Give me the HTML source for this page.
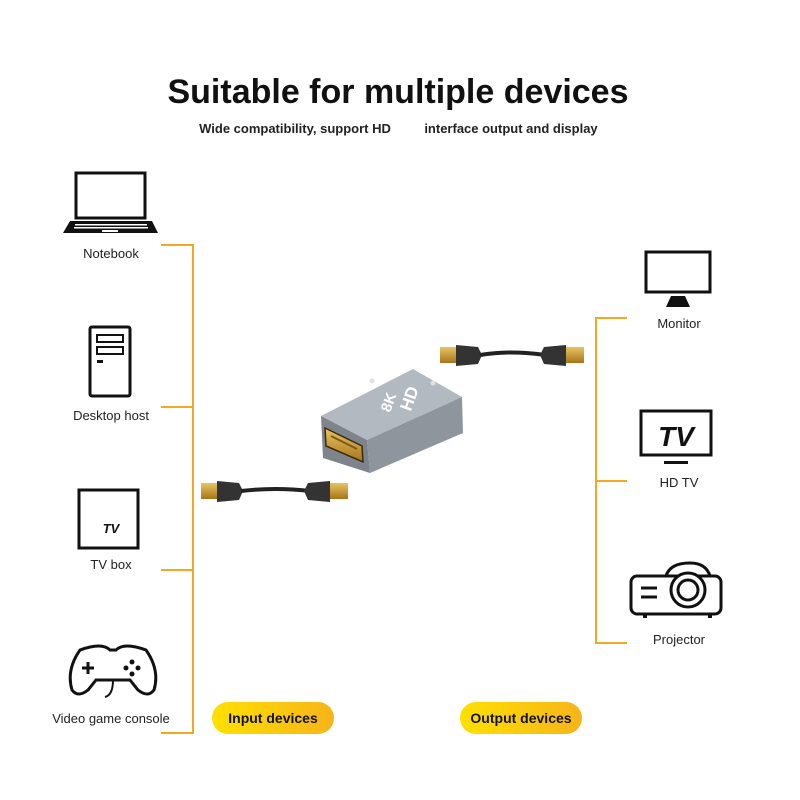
<!DOCTYPE html>
<html><head><meta charset="utf-8"><style>
body{margin:0;background:#fff;}
svg{display:block}
text{font-family:"Liberation Sans",sans-serif;}
</style></head><body>
<svg width="800" height="800" viewBox="0 0 800 800" xmlns="http://www.w3.org/2000/svg">
<defs>
<linearGradient id="yg" x1="0" x2="1"><stop offset="0" stop-color="#ffe000"/><stop offset="1" stop-color="#f6b41a"/></linearGradient>
<linearGradient id="gold" x1="0" x2="0" y1="0" y2="1"><stop offset="0" stop-color="#e8c560"/><stop offset="1" stop-color="#a8741a"/></linearGradient>
</defs>
<rect width="800" height="800" fill="#fff"/>
<text x="398" y="103" text-anchor="middle" font-size="34" font-weight="bold" fill="#111">Suitable for multiple devices</text>
<text x="295" y="133" text-anchor="middle" font-size="13" font-weight="bold" fill="#222">Wide compatibility, support HD</text>
<text x="511" y="133" text-anchor="middle" font-size="13" font-weight="bold" fill="#222">interface output and display</text>

<g stroke="#f5a623" stroke-width="2" fill="none">
<path d="M161 245H193V733H161M161 407H193M161 570H193"/>
<path d="M627 318H596V643H627M596 481H627"/>
</g>

<rect x="76" y="173" width="69" height="45" fill="none" stroke="#111" stroke-width="3"/>
<path d="M70 221H152L158 233H63Z" fill="#111"/>
<g fill="#fff"><rect x="75" y="224" width="72" height="1.5"/><rect x="74" y="227" width="74" height="1.5"/><rect x="102" y="230" width="16" height="2"/></g>
<text x="111" y="258" text-anchor="middle" font-size="13" fill="#222">Notebook</text>

<rect x="90" y="327" width="40" height="69" fill="none" stroke="#111" stroke-width="3" rx="2"/>
<rect x="97" y="335" width="26" height="7" fill="none" stroke="#111" stroke-width="2"/>
<rect x="97" y="347" width="26" height="7" fill="none" stroke="#111" stroke-width="2"/>
<rect x="97" y="360" width="6" height="3" fill="#111"/>
<text x="111" y="420" text-anchor="middle" font-size="13" fill="#222">Desktop host</text>

<rect x="79" y="490" width="59" height="58" fill="none" stroke="#111" stroke-width="3"/>
<text x="111" y="533" text-anchor="middle" font-size="13" font-weight="bold" font-style="italic" fill="#111">TV</text>
<text x="111" y="569" text-anchor="middle" font-size="13" fill="#222">TV box</text>

<path d="M80 650 Q102 642 110 650 L116 650 Q124 642 146 650 Q160 670 154 690 Q148 698 138 690 L130 680 L96 680 L88 690 Q78 698 72 690 Q66 670 80 650Z" fill="none" stroke="#111" stroke-width="3"/>
<path d="M88 662V674M82 668H94" stroke="#111" stroke-width="3"/>
<circle cx="132" cy="662" r="2.5" fill="#111"/><circle cx="132" cy="674" r="2.5" fill="#111"/><circle cx="126" cy="668" r="2.5" fill="#111"/><circle cx="138" cy="668" r="2.5" fill="#111"/>
<path d="M113 680 Q113 695 105 697" stroke="#111" stroke-width="2" fill="none"/>
<text x="111" y="723" text-anchor="middle" font-size="13" fill="#222">Video game console</text>

<rect x="646" y="252" width="64" height="40" fill="none" stroke="#111" stroke-width="3"/>
<path d="M671 296H685L690 307H666Z" fill="#111"/>
<text x="679" y="328" text-anchor="middle" font-size="13" fill="#222">Monitor</text>

<rect x="641" y="411" width="70" height="44" fill="none" stroke="#111" stroke-width="3"/>
<text x="676" y="446" text-anchor="middle" font-size="28" font-weight="bold" font-style="italic" fill="#111">TV</text>
<rect x="664" y="461" width="24" height="3" fill="#111"/>
<text x="679" y="487" text-anchor="middle" font-size="13" fill="#222">HD TV</text>

<rect x="631" y="576" width="90" height="38" rx="6" fill="none" stroke="#111" stroke-width="3"/>
<path d="M666 576Q670 563 690 563Q706 563 710 576" fill="none" stroke="#111" stroke-width="3"/>
<circle cx="688" cy="590" r="17" fill="#fff" stroke="#111" stroke-width="3"/>
<circle cx="688" cy="590" r="10" fill="none" stroke="#111" stroke-width="3"/>
<path d="M641 588H657M641 597H657" stroke="#111" stroke-width="3"/>
<path d="M645 614v4M710 614v4" stroke="#111" stroke-width="4"/>
<text x="679" y="644" text-anchor="middle" font-size="13" fill="#222">Projector</text>

<!-- adapter -->
<path d="M321 416 L413 369 L462 397 L367 440Z" fill="#b3b9c0"/>
<path d="M367 440 L462 397 L463 433 L370 473Z" fill="#8e959d"/>
<path d="M321 416 L367 440 L370 473 L323 458Z" fill="#7d848c"/>
<path d="M325 428 L362 446 L363 462 L326 446Z" fill="url(#gold)" stroke="#3a2a10" stroke-width="1.5"/>
<path d="M331 436 L357 449" stroke="#7a5a1a" stroke-width="2"/>
<circle cx="372" cy="381" r="2.5" fill="#dfe2e5"/><circle cx="433" cy="383" r="2.5" fill="#dfe2e5"/>
<text x="390" y="413" font-size="15" font-weight="bold" fill="#fff" transform="rotate(-70 390 413)">8K</text>
<text x="398" y="432" font-size="17" font-weight="bold" fill="#fff" transform="rotate(-70 390 413)">HD</text>

<g>
<rect x="440" y="347" width="18" height="16" fill="url(#gold)"/>
<path d="M456 345 L478 347 L482 355 L478 364 L456 366Z" fill="#333"/>
<path d="M480 355 Q510 350 545 355" stroke="#222" stroke-width="4" fill="none"/>
<path d="M566 345 L544 347 L540 355 L544 364 L566 366Z" fill="#333"/>
<rect x="566" y="347" width="18" height="16" fill="url(#gold)"/>

<rect x="201" y="483" width="18" height="16" fill="url(#gold)"/>
<path d="M217 481 L239 483 L243 491 L239 500 L217 502Z" fill="#333"/>
<path d="M241 491 Q275 487 310 491" stroke="#222" stroke-width="4" fill="none"/>
<path d="M330 481 L308 483 L304 491 L308 500 L330 502Z" fill="#333"/>
<rect x="330" y="483" width="18" height="16" fill="url(#gold)"/>
</g>

<rect x="212" y="702" width="122" height="32" rx="16" fill="url(#yg)"/>
<text x="273" y="723" text-anchor="middle" font-size="14" font-weight="bold" fill="#111">Input devices</text>
<rect x="460" y="702" width="122" height="32" rx="16" fill="url(#yg)"/>
<text x="521" y="723" text-anchor="middle" font-size="14" font-weight="bold" fill="#111">Output devices</text>
</svg>
</body></html>
